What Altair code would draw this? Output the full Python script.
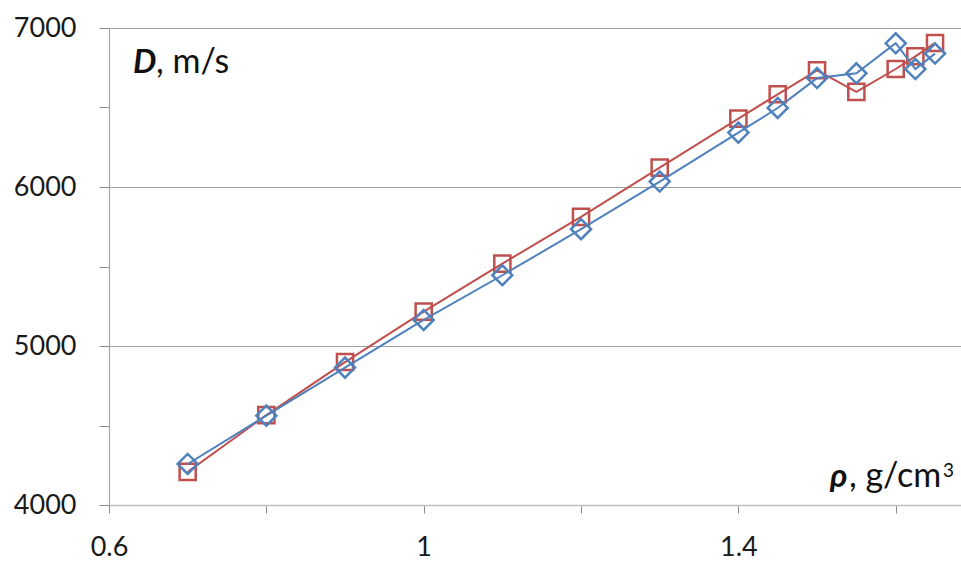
import altair as alt
import pandas as pd

# Density (g/cm3) and detonation velocity (m/s) for the two series
rho = [0.7, 0.8, 0.9, 1.0, 1.1, 1.2, 1.3, 1.4, 1.45, 1.5, 1.55, 1.6, 1.625, 1.65]
d_square = [4208, 4565, 4899, 5216, 5518, 5812, 6122, 6430, 6583, 6734, 6598, 6742, 6822, 6906]
d_diamond = [4258, 4562, 4864, 5164, 5445, 5735, 6034, 6342, 6497, 6685, 6715, 6904, 6742, 6839]

x_ticks = [0.6, 0.8, 1.0, 1.2, 1.4, 1.6]
y_ticks = [4000, 4500, 5000, 5500, 6000, 6500, 7000]

y_title = ["D", ", m/s"]
x_title = ["\u03c1", ", g/cm", "3"]

RED = "#C0504D"
BLUE = "#4F81BD"
FONT = "Lato"

sq = pd.DataFrame({"rho": rho, "D": d_square})
di = pd.DataFrame({"rho": rho, "D": d_diamond})

x_enc = alt.X(
    "rho:Q",
    scale=alt.Scale(domain=[0.6, 1.683], nice=False, zero=False),
    axis=alt.Axis(
        values=x_ticks,
        labelExpr="round(datum.value * 10) % 4 == 2 ? format(datum.value, '~g') : ''",
        title=None,
        grid=False,
        domainColor="#bfbfbf",
        domainWidth=1.5,
        tickColor="#8c8c8c",
        tickSize=8,
        labelFont=FONT,
        labelFontSize=27,
        labelColor="#1a1a1a",
        labelPadding=21,
        labelFlush=False,
        labelOverlap=False,
    ),
)
y_enc = alt.Y(
    "D:Q",
    scale=alt.Scale(domain=[4000, 7000], nice=False, zero=False),
    axis=alt.Axis(
        values=y_ticks,
        labelExpr="datum.value % 1000 === 0 ? format(datum.value, 'd') : ''",
        title=None,
        grid=True,
        gridColor="#a0a0a0",
        gridOpacity={"condition": {"test": "datum.value % 1000 === 0", "value": 1}, "value": 0},
        domainColor="#a6a6a6",
        domainWidth=1.2,
        tickColor="#8c8c8c",
        tickSize=10,
        labelFont=FONT,
        labelFontSize=27,
        labelColor="#1a1a1a",
        labelPadding=23,
        labelOverlap=False,
    ),
)


def series(df, color, shape, size):
    base = alt.Chart(df)
    line = base.mark_line(color=color, strokeWidth=2).encode(x=x_enc, y=y_enc, order="rho:Q")
    pts = base.mark_point(
        shape=shape, size=size, filled=False, color=color, strokeWidth=2.5, opacity=1
    ).encode(x=x_enc, y=y_enc)
    return line + pts


def label(text, x, y, bold=False, size=33):
    return (
        alt.Chart(pd.DataFrame({"t": [text]}))
        .mark_text(
            font=FONT,
            fontSize=size,
            fontStyle="italic" if bold else "normal",
            fontWeight="bold" if bold else "normal",
            align="left",
            baseline="alphabetic",
            color="#111111",
        )
        .encode(text="t:N", x=alt.value(x), y=alt.value(y))
    )


chart = (
    alt.layer(
        series(sq, RED, "square", 260),
        series(di, BLUE, "diamond", 400),
        label(y_title[0], 24, 45, bold=True),
        label(y_title[1], 47, 45, size=34),
        label(x_title[0], 721, 459, bold=True),
        label(x_title[1], 740, 459, size=34),
        label(x_title[2], 834, 449, size=19),
    )
    .properties(
        width=852,
        height=477,
        autosize=alt.AutoSizeParams(type="none"),
        padding={"left": 109, "top": 28, "right": 0, "bottom": 56},
        background="white",
    )
    .configure_view(stroke=None)
)

chart.save("out.html", embed_options={"renderer": "svg", "actions": False})
